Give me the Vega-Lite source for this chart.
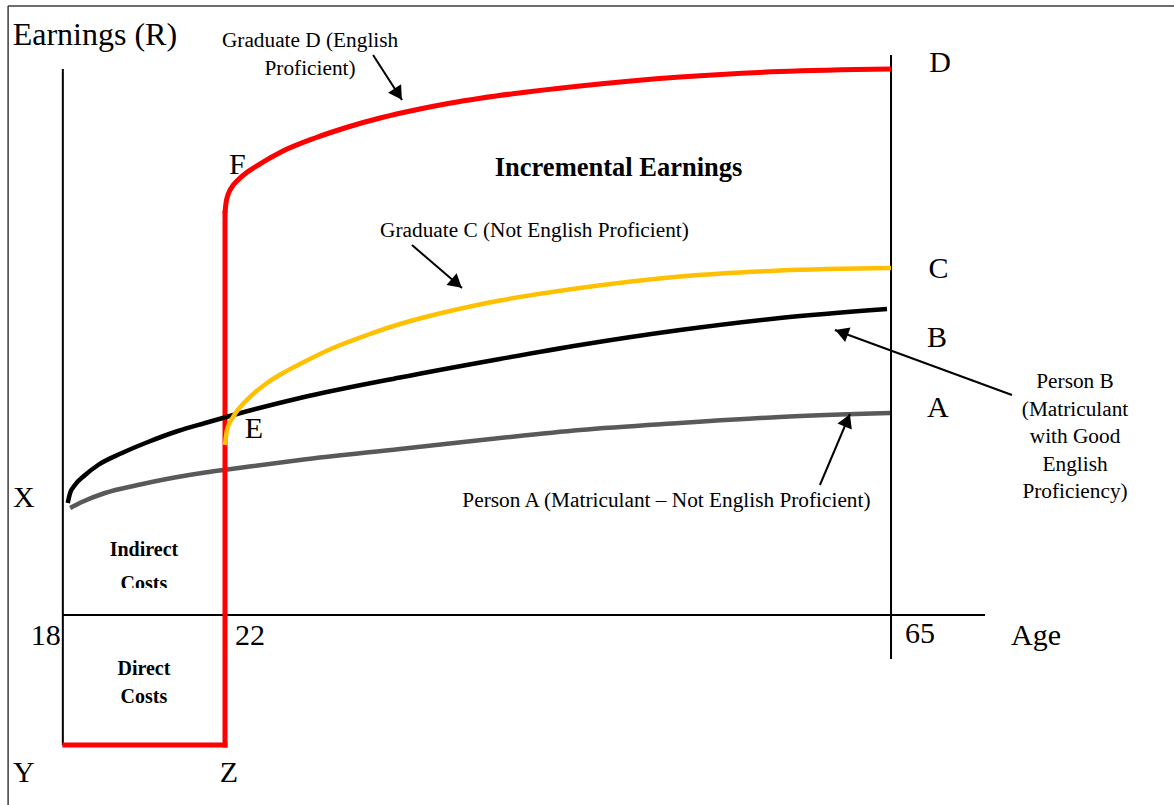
{
  "$schema": "https://vega.github.io/schema/vega-lite/v6.json",
  "width": 1174,
  "height": 805,
  "padding": 0,
  "autosize": {"type": "none"},
  "background": "white",
  "config": {"view": {"stroke": null}},
  "datasets": {
    "curves": [
      {"series": "D", "age": 22, "e": 80.4},
      {"series": "D", "age": 22.065, "e": 82.4},
      {"series": "D", "age": 22.19, "e": 84.0},
      {"series": "D", "age": 22.45, "e": 85.6},
      {"series": "D", "age": 22.84, "e": 87.0},
      {"series": "D", "age": 23.36, "e": 88.4},
      {"series": "D", "age": 23.94, "e": 89.6},
      {"series": "D", "age": 25.68, "e": 92.7},
      {"series": "D", "age": 27.81, "e": 95.4},
      {"series": "D", "age": 29.94, "e": 97.6},
      {"series": "D", "age": 32.14, "e": 99.5},
      {"series": "D", "age": 34.27, "e": 101.0},
      {"series": "D", "age": 36.4, "e": 102.3},
      {"series": "D", "age": 38.59, "e": 103.4},
      {"series": "D", "age": 40.72, "e": 104.3},
      {"series": "D", "age": 44.92, "e": 105.8},
      {"series": "D", "age": 51.38, "e": 107.6},
      {"series": "D", "age": 57.83, "e": 108.7},
      {"series": "D", "age": 65, "e": 109.2},

      {"series": "C", "age": 22, "e": 34},
      {"series": "C", "age": 22.13, "e": 37},
      {"series": "C", "age": 22.52, "e": 39.6},
      {"series": "C", "age": 23.1, "e": 42},
      {"series": "C", "age": 23.61, "e": 43.6},
      {"series": "C", "age": 24.71, "e": 46.4},
      {"series": "C", "age": 25.74, "e": 48.4},
      {"series": "C", "age": 26.84, "e": 50.2},
      {"series": "C", "age": 28.97, "e": 53.4},
      {"series": "C", "age": 31.17, "e": 56},
      {"series": "C", "age": 33.3, "e": 58.2},
      {"series": "C", "age": 36.53, "e": 60.8},
      {"series": "C", "age": 39.75, "e": 62.9},
      {"series": "C", "age": 44.92, "e": 65.4},
      {"series": "C", "age": 51.38, "e": 67.7},
      {"series": "C", "age": 57.83, "e": 68.9},
      {"series": "C", "age": 65, "e": 69.4},

      {"series": "B", "age": 18.12, "e": 22.4},
      {"series": "B", "age": 18.18, "e": 24.4},
      {"series": "B", "age": 18.3, "e": 26},
      {"series": "B", "age": 18.55, "e": 28},
      {"series": "B", "age": 18.87, "e": 30},
      {"series": "B", "age": 19.46, "e": 32.4},
      {"series": "B", "age": 20.1, "e": 34.6},
      {"series": "B", "age": 20.84, "e": 36.8},
      {"series": "B", "age": 21.51, "e": 38.4},
      {"series": "B", "age": 22.65, "e": 40.1},
      {"series": "B", "age": 26.84, "e": 43.4},
      {"series": "B", "age": 33.3, "e": 47.5},
      {"series": "B", "age": 39.75, "e": 51.2},
      {"series": "B", "age": 44.92, "e": 54},
      {"series": "B", "age": 51.38, "e": 57},
      {"series": "B", "age": 57.83, "e": 59.4},
      {"series": "B", "age": 64.74, "e": 61.2},

      {"series": "A", "age": 18.18, "e": 21.4},
      {"series": "A", "age": 18.47, "e": 22.6},
      {"series": "A", "age": 19.04, "e": 24.4},
      {"series": "A", "age": 19.85, "e": 26},
      {"series": "A", "age": 20.69, "e": 27.4},
      {"series": "A", "age": 21.51, "e": 28.5},
      {"series": "A", "age": 22.65, "e": 29.3},
      {"series": "A", "age": 26.84, "e": 31},
      {"series": "A", "age": 33.3, "e": 33.2},
      {"series": "A", "age": 39.75, "e": 35.4},
      {"series": "A", "age": 44.92, "e": 37},
      {"series": "A", "age": 51.38, "e": 38.4},
      {"series": "A", "age": 57.83, "e": 39.6},
      {"series": "A", "age": 64.94, "e": 40.4}
    ],
    "segments": [
      {"kind": "frame", "age": 16.65, "e": 121.8, "age2": 83.27, "e2": 121.8},
      {"kind": "frame", "age": 16.65, "e": 121.8, "age2": 16.65, "e2": -38},
      {"kind": "axis", "age": 18, "e": 109.2, "age2": 18, "e2": -26},
      {"kind": "axis", "age": 18, "e": 0, "age2": 71.07, "e2": 0},
      {"kind": "axis", "age": 65, "e": 112, "age2": 65, "e2": -8.8},
      {"kind": "cost", "age": 18.05, "e": -26, "age2": 22, "e2": -26},
      {"kind": "cost", "age": 22, "e": -26, "age2": 22, "e2": 80.4}
    ],
    "arrows": [
      {"id": "D", "age": 33.43, "e": 103, "fromAge": 31.56, "fromE": 112},
      {"id": "C", "age": 37.3, "e": 65.4, "fromAge": 34.07, "fromE": 74},
      {"id": "B", "age": 61.38, "e": 57, "fromAge": 72.81, "fromE": 44},
      {"id": "A", "age": 62.35, "e": 40.2, "fromAge": 60.41, "fromE": 26}
    ],
    "textbox": [
      {"age": 18.9, "e": 5.4, "age2": 21.1, "e2": 3.0}
    ],
    "labels": [
      {"label": "Earnings (R)", "style": "title", "age": 18.79, "e": 114},
      {"label": "D", "style": "big", "age": 68.16, "e": 108.6},
      {"label": "F", "style": "big", "age": 22.8, "e": 88.2},
      {"label": "C", "style": "big", "age": 68.07, "e": 67.4},
      {"label": "B", "style": "big", "age": 67.97, "e": 53.6},
      {"label": "A", "style": "big", "age": 68.03, "e": 39.6},
      {"label": "E", "style": "big", "age": 23.87, "e": 35.4},
      {"label": "X", "style": "big", "age": 17.04, "e": 21.6},
      {"label": "18", "style": "big", "age": 17.58, "e": -6},
      {"label": "22", "style": "big", "age": 23.61, "e": -6},
      {"label": "65", "style": "big", "age": 66.87, "e": -5.6},
      {"label": "Age", "style": "big", "age": 74.36, "e": -6},
      {"label": "Y", "style": "big", "age": 17.04, "e": -33.4},
      {"label": "Z", "style": "big", "age": 22.26, "e": -33.4},
      {"label": "Graduate D (English", "style": "note", "age": 27.49, "e": 113.6},
      {"label": "Proficient)", "style": "note", "age": 27.49, "e": 108},
      {"label": "Graduate C (Not English Proficient)", "style": "note", "age": 41.98, "e": 75.6},
      {"label": "Person A (Matriculant – Not English Proficient)", "style": "note", "age": 50.5, "e": 21.6},
      {"label": "Person B", "style": "note", "age": 76.88, "e": 45.4},
      {"label": "(Matriculant", "style": "note", "age": 76.88, "e": 39.9},
      {"label": "with Good", "style": "note", "age": 76.88, "e": 34.4},
      {"label": "English", "style": "note", "age": 76.88, "e": 28.9},
      {"label": "Proficiency)", "style": "note", "age": 76.88, "e": 23.4},
      {"label": "Incremental Earnings", "style": "heading", "age": 47.41, "e": 87.8},
      {"label": "Indirect", "style": "cost", "age": 20, "e": 11.8},
      {"label": "Costs", "style": "cost", "age": 20, "e": 5},
      {"label": "Direct", "style": "cost", "age": 20, "e": -12},
      {"label": "Costs", "style": "cost", "age": 20, "e": -17.6}
    ]
  },
  "encoding": {
    "x": {
      "field": "age",
      "type": "quantitative",
      "axis": null,
      "scale": {"domain": [16.45, 22, 83.27], "range": [0, 225, 1174], "zero": false, "nice": false}
    },
    "y": {
      "field": "e",
      "type": "quantitative",
      "axis": null,
      "scale": {"domain": [-38, 123], "zero": false, "nice": false}
    }
  },
  "layer": [
    {
      "data": {"name": "segments"},
      "transform": [{"filter": "datum.kind === 'frame'"}],
      "mark": {"type": "rule", "color": "#3c3c3c", "strokeWidth": 1.5},
      "encoding": {"x2": {"field": "age2"}, "y2": {"field": "e2"}}
    },
    {
      "data": {"name": "segments"},
      "transform": [{"filter": "datum.kind === 'axis'"}],
      "mark": {"type": "rule", "color": "black", "strokeWidth": 2},
      "encoding": {"x2": {"field": "age2"}, "y2": {"field": "e2"}}
    },
    {
      "data": {"name": "curves"},
      "transform": [{"filter": "datum.series === 'A'"}],
      "mark": {"type": "line", "color": "#595959", "strokeWidth": 4.5, "interpolate": "monotone"}
    },
    {
      "data": {"name": "segments"},
      "transform": [{"filter": "datum.kind === 'cost'"}],
      "mark": {"type": "rule", "color": "#ff0000", "strokeWidth": 5, "strokeCap": "square"},
      "encoding": {"x2": {"field": "age2"}, "y2": {"field": "e2"}}
    },
    {
      "data": {"name": "curves"},
      "transform": [{"filter": "datum.series === 'D'"}],
      "mark": {"type": "line", "color": "#ff0000", "strokeWidth": 5, "interpolate": "monotone"}
    },
    {
      "data": {"name": "curves"},
      "transform": [{"filter": "datum.series === 'B'"}],
      "mark": {"type": "line", "color": "black", "strokeWidth": 4.5, "interpolate": "monotone"}
    },
    {
      "data": {"name": "curves"},
      "transform": [{"filter": "datum.series === 'C'"}],
      "mark": {"type": "line", "color": "#ffc000", "strokeWidth": 4.5, "interpolate": "monotone"}
    },
    {
      "data": {"name": "arrows"},
      "mark": {"type": "rule", "color": "black", "strokeWidth": 2},
      "encoding": {"x2": {"field": "fromAge"}, "y2": {"field": "fromE"}}
    },
    {
      "data": {"name": "arrows"},
      "transform": [{"filter": "datum.id === 'D'"}],
      "mark": {"type": "point", "shape": "triangle-up", "filled": true, "opacity": 1, "color": "black", "size": 240, "angle": 147.2, "xOffset": -3.8, "yOffset": -5.9}
    },
    {
      "data": {"name": "arrows"},
      "transform": [{"filter": "datum.id === 'C'"}],
      "mark": {"type": "point", "shape": "triangle-up", "filled": true, "opacity": 1, "color": "black", "size": 240, "angle": 130.7, "xOffset": -5.3, "yOffset": -4.6}
    },
    {
      "data": {"name": "arrows"},
      "transform": [{"filter": "datum.id === 'B'"}],
      "mark": {"type": "point", "shape": "triangle-up", "filled": true, "opacity": 1, "color": "black", "size": 240, "angle": 290.2, "xOffset": 6.6, "yOffset": 2.4}
    },
    {
      "data": {"name": "arrows"},
      "transform": [{"filter": "datum.id === 'A'"}],
      "mark": {"type": "point", "shape": "triangle-up", "filled": true, "opacity": 1, "color": "black", "size": 240, "angle": 22.9, "xOffset": -2.7, "yOffset": 6.4}
    },
    {
      "data": {"name": "labels"},
      "transform": [{"filter": "datum.style === 'title'"}],
      "mark": {"type": "text", "font": "Liberation Serif", "fontSize": 32, "align": "center", "baseline": "alphabetic", "color": "black"},
      "encoding": {"text": {"field": "label"}}
    },
    {
      "data": {"name": "labels"},
      "transform": [{"filter": "datum.style === 'big'"}],
      "mark": {"type": "text", "font": "Liberation Serif", "fontSize": 30, "align": "center", "baseline": "alphabetic", "color": "black"},
      "encoding": {"text": {"field": "label"}}
    },
    {
      "data": {"name": "labels"},
      "transform": [{"filter": "datum.style === 'note'"}],
      "mark": {"type": "text", "font": "Liberation Serif", "fontSize": 21.3, "align": "center", "baseline": "alphabetic", "color": "black"},
      "encoding": {"text": {"field": "label"}}
    },
    {
      "data": {"name": "labels"},
      "transform": [{"filter": "datum.style === 'heading'"}],
      "mark": {"type": "text", "font": "Liberation Serif", "fontSize": 26.5, "fontWeight": "bold", "align": "center", "baseline": "alphabetic", "color": "black"},
      "encoding": {"text": {"field": "label"}}
    },
    {
      "data": {"name": "labels"},
      "transform": [{"filter": "datum.style === 'cost'"}],
      "mark": {"type": "text", "font": "Liberation Serif", "fontSize": 20, "fontWeight": "bold", "align": "center", "baseline": "alphabetic", "color": "black"},
      "encoding": {"text": {"field": "label"}}
    },
    {
      "data": {"name": "textbox"},
      "mark": {"type": "rect", "color": "white", "opacity": 1},
      "encoding": {"x2": {"field": "age2"}, "y2": {"field": "e2"}}
    }
  ]
}
